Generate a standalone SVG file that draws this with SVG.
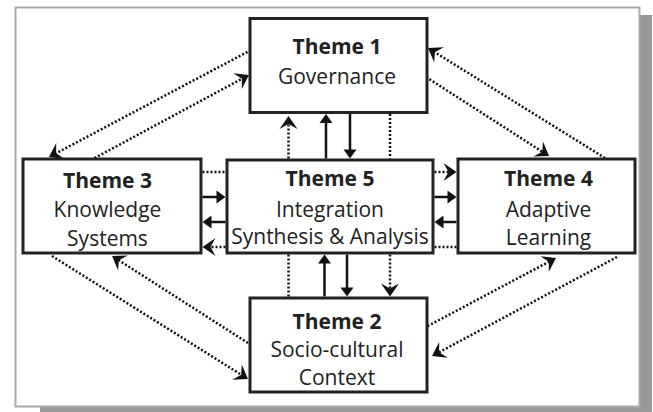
<svg xmlns="http://www.w3.org/2000/svg" width="653" height="412" viewBox="0 0 653 412">
<style>
.box{fill:#fff;stroke:#222;stroke-width:3}
.t{font-family:"Open Sans",Lato,"Liberation Sans",sans-serif;font-size:21px;fill:#222;text-anchor:middle}
.b{font-weight:bold}
.s{fill:none;stroke:#111;stroke-width:2.5}
.d{fill:none;stroke:#111;stroke-width:2.5;stroke-dasharray:2 2}
</style>
<defs>
<marker id="chev" markerUnits="userSpaceOnUse" viewBox="-8 -10 15 20" refX="0" refY="0" markerWidth="15" markerHeight="20" orient="auto">
<path d="M6,0 L-7,-9 L-2,0 L-7,9 Z" fill="#111"/>
</marker>
<marker id="tri" markerUnits="userSpaceOnUse" viewBox="-4 -8 11 16" refX="0" refY="0" markerWidth="11" markerHeight="16" orient="auto">
<path d="M6,0 L-3,-6.5 L-3,6.5 Z" fill="#111"/>
</marker>
</defs>
<rect x="40" y="15" width="612" height="397" fill="#999"/>
<rect x="15.5" y="7.5" width="624" height="399" fill="#fff" stroke="#aaa" stroke-width="2"/>
<g id="connectors">
<line class="d" x1="251" y1="50" x2="54.3" y2="154.2" marker-end="url(#chev)"/>
<line class="d" x1="91" y1="160" x2="243.7" y2="77.8" marker-end="url(#chev)"/>
<line class="d" x1="426" y1="77" x2="544" y2="152.8" marker-end="url(#chev)"/>
<line class="d" x1="605" y1="158" x2="433.1" y2="51.2" marker-end="url(#chev)"/>
<line class="d" x1="52" y1="256" x2="242.9" y2="375.8" marker-end="url(#chev)"/>
<line class="d" x1="248" y1="343" x2="117.1" y2="259.2" marker-end="url(#chev)"/>
<line class="d" x1="424" y1="328" x2="550.7" y2="260.8" marker-end="url(#chev)"/>
<line class="d" x1="617" y1="257" x2="437.3" y2="353.2" marker-end="url(#chev)"/>
<line class="d" x1="288.5" y1="158.5" x2="288.5" y2="122" marker-end="url(#chev)"/>
<line class="s" x1="326" y1="158.5" x2="326" y2="120" marker-end="url(#tri)"/>
<line class="s" x1="350" y1="114" x2="350" y2="152.5" marker-end="url(#tri)"/>
<line class="d" x1="390" y1="114" x2="390" y2="158.5"/>
<line class="d" x1="288.5" y1="254.5" x2="288.5" y2="296.5"/>
<line class="s" x1="324.5" y1="296.5" x2="324.5" y2="260.5" marker-end="url(#tri)"/>
<line class="s" x1="347" y1="254.5" x2="347" y2="290.5" marker-end="url(#tri)"/>
<line class="d" x1="390" y1="254.5" x2="390" y2="290.5" marker-end="url(#chev)"/>
<line class="d" x1="202.5" y1="172" x2="225.5" y2="172"/>
<line class="s" x1="202.5" y1="197" x2="219.5" y2="197" marker-end="url(#tri)"/>
<line class="s" x1="225.5" y1="222" x2="208.5" y2="222" marker-end="url(#tri)"/>
<line class="d" x1="225.5" y1="247" x2="208.5" y2="247" marker-end="url(#chev)"/>
<line class="d" x1="434.5" y1="172" x2="450.5" y2="172" marker-end="url(#chev)"/>
<line class="s" x1="434.5" y1="197" x2="450.5" y2="197" marker-end="url(#tri)"/>
<line class="s" x1="456.5" y1="222" x2="440.5" y2="222" marker-end="url(#tri)"/>
<line class="d" x1="434.5" y1="247" x2="456.5" y2="247"/>
</g>
<g id="theme1">
<rect class="box" x="250" y="18.5" width="177" height="94"/>
<text class="t b" x="337" y="54">Theme 1</text>
<text class="t" x="337" y="84">Governance</text>
</g>
<g id="theme3">
<rect class="box" x="23" y="159" width="178" height="94"/>
<text class="t b" x="107.5" y="188">Theme 3</text>
<text class="t" x="107.5" y="217">Knowledge</text>
<text class="t" x="107.5" y="245.5">Systems</text>
</g>
<g id="theme5">
<rect class="box" x="227" y="160" width="206" height="93"/>
<text class="t b" x="330" y="186">Theme 5</text>
<text class="t" x="330" y="217">Integration</text>
<text class="t" x="330" y="244">Synthesis &amp; Analysis</text>
</g>
<g id="theme4">
<rect class="box" x="458" y="159" width="177" height="94"/>
<text class="t b" x="548.5" y="186">Theme 4</text>
<text class="t" x="548.5" y="216.5">Adaptive</text>
<text class="t" x="548.5" y="245">Learning</text>
</g>
<g id="theme2">
<rect class="box" x="250" y="298" width="177" height="94"/>
<text class="t b" x="337" y="328.5">Theme 2</text>
<text class="t" x="337" y="356.5">Socio-cultural</text>
<text class="t" x="337" y="384.5">Context</text>
</g>
</svg>
